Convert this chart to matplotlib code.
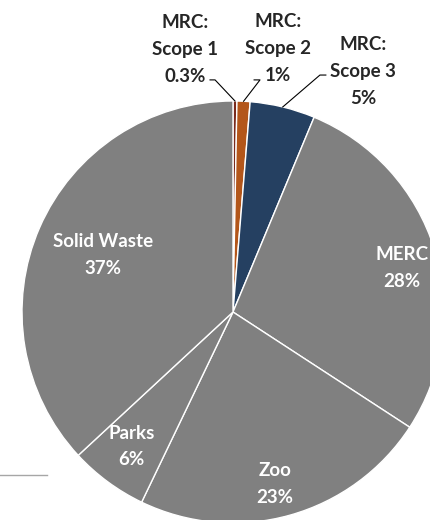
import numpy as np
import matplotlib
matplotlib.use('Agg')
import matplotlib.pyplot as plt
from matplotlib.lines import Line2D

labels = ['MRC:\nScope 1', 'MRC:\nScope 2', 'MRC:\nScope 3', 'MERC', 'Zoo', 'Parks', 'Solid Waste']
values = [0.3, 1, 5, 28, 23, 6, 37]
pct_text = ['0.3%', '1%', '5%', '28%', '23%', '6%', '37%']
colors = ['#7a2a1c', '#b3561a', '#254061', '#808080', '#808080', '#808080', '#808080']

plt.rcParams['font.family'] = ['Lato', 'DejaVu Sans']

fig = plt.figure(figsize=(4.31, 5.20), dpi=100)
ax = fig.add_axes([22/431, -3/520, 422/431, 422/520])

wedges, _ = ax.pie(values, colors=colors, startangle=90, counterclock=False,
                   radius=1, wedgeprops=dict(edgecolor='white', linewidth=1))
ax.set_xlim(-1, 1)
ax.set_ylim(-1, 1)
ax.set_aspect('equal')
ax.axis('off')

fs = 13.5
ls = 1.7

# inside labels for the big slices
inner_pos = {3: (0.80, 0.21), 4: (0.20, -0.815), 5: (-0.48, -0.637), 6: (-0.615, 0.27)}
for i, (x, y) in inner_pos.items():
    ax.text(x, y, labels[i] + '\n' + pct_text[i], ha='center', va='center',
            color='white', fontsize=fs, fontweight='bold', linespacing=ls)

# outside labels with leader lines for the MRC slices
outer = {0: ((-0.227, 1.245), (-0.085, 1.10), (-0.109, 1.10)),
         1: ((0.213, 1.25), (0.128, 1.10), (0.10, 1.10)),
         2: ((0.616, 1.14), (0.412, 1.123), (0.44, 1.123))}
for i, (tpos, elbow, tail) in outer.items():
    w = wedges[i]
    ang = np.deg2rad((w.theta1 + w.theta2) / 2)
    px, py = np.cos(ang), np.sin(ang)
    ax.plot([px, elbow[0], tail[0]], [py, elbow[1], tail[1]], color='black', lw=0.8,
            clip_on=False)
    ax.text(tpos[0], tpos[1], labels[i] + '\n' + pct_text[i], ha='center', va='center',
            color='#262626', fontsize=fs, fontweight='bold', linespacing=ls)

fig.add_artist(Line2D([0, 47/431], [45/520, 45/520], color='#a6a6a6', lw=1))

fig.savefig('out.png', dpi=100)
